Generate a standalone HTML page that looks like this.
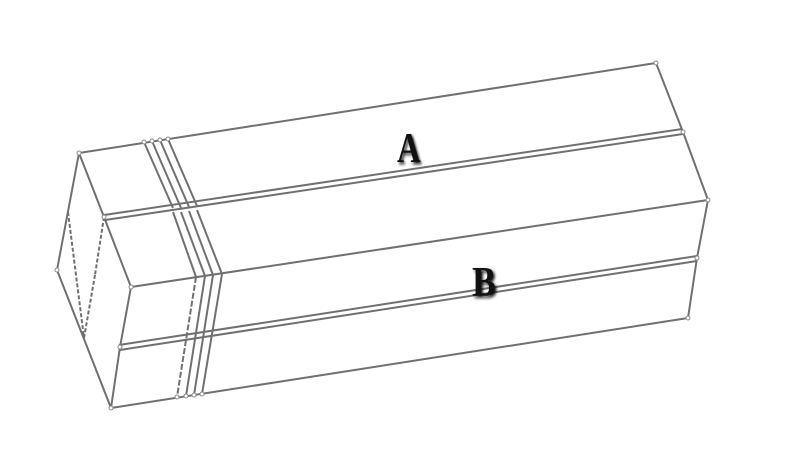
<!DOCTYPE html>
<html><head><meta charset="utf-8"><style>
html,body{margin:0;padding:0;background:#fff;width:800px;height:453px;overflow:hidden}
svg{display:block}
text{font-family:"Liberation Serif",serif;font-weight:bold;fill:#111}
</style></head><body>
<svg width="800" height="453" viewBox="0 0 800 453">
<defs><filter id="sh"><feGaussianBlur stdDeviation="1.5"/></filter></defs>
<g fill="none" stroke="#707070" stroke-width="2" stroke-linejoin="round">
<line x1="79" y1="153" x2="656" y2="63"/>
<line x1="104" y1="215" x2="682" y2="129"/>
<line x1="105" y1="220" x2="683" y2="134"/>
<line x1="131" y1="287" x2="708" y2="200"/>
<polyline points="79,153 104,217 131,287"/>
<polyline points="656,63 683,132 708,200"/>
<line x1="119" y1="345" x2="697" y2="256"/>
<line x1="120" y1="350" x2="697" y2="261"/>
<line x1="111" y1="408" x2="688" y2="318"/>
<polyline points="131,287 120,347 111,408"/>
<polyline points="708,200 697,258 688,318"/>
<polyline points="79,153 57,270 111,408"/>
<line x1="68" y1="212" x2="84" y2="338" stroke-dasharray="4,2"/>
<line x1="104" y1="217" x2="95" y2="275" stroke-dasharray="4,2"/>
<line x1="95" y1="275" x2="84" y2="338" stroke-dasharray="4,2"/>
<line x1="144" y1="142" x2="173" y2="208"/>
<line x1="152" y1="141" x2="181" y2="208"/>
<line x1="160" y1="140" x2="189" y2="207"/>
<line x1="168" y1="139" x2="197" y2="206"/>
<line x1="173" y1="212" x2="196" y2="277"/>
<line x1="181" y1="212" x2="205" y2="276"/>
<line x1="189" y1="211" x2="213" y2="275"/>
<line x1="197" y1="210" x2="222" y2="274"/>
<line x1="196" y1="277" x2="177" y2="397" stroke-dasharray="6,2"/>
<line x1="205" y1="276" x2="186" y2="396"/>
<line x1="213" y1="275" x2="194" y2="395"/>
<line x1="222" y1="274" x2="202" y2="394"/>
</g>
<g fill="#fff" stroke="#888" stroke-width="1">
<circle cx="79" cy="153" r="2"/><circle cx="656" cy="63" r="2"/><circle cx="683" cy="132" r="2"/>
<circle cx="708" cy="200" r="2"/><circle cx="697" cy="258" r="2"/><circle cx="688" cy="318" r="2"/>
<circle cx="131" cy="287" r="2"/><circle cx="120" cy="347" r="2"/><circle cx="111" cy="408" r="2"/>
<circle cx="104" cy="217" r="2"/><circle cx="57" cy="270" r="2"/>
<circle cx="144" cy="142" r="2"/><circle cx="152" cy="141" r="2"/><circle cx="160" cy="140" r="2"/><circle cx="168" cy="139" r="2"/>
<circle cx="177" cy="397" r="2"/><circle cx="186" cy="396" r="2"/><circle cx="194" cy="395" r="2"/><circle cx="202" cy="394" r="2"/>
</g>
<g transform="translate(397,162) scale(0.78,1)"><text x="2" y="2" font-size="42" fill="#888" filter="url(#sh)">A</text><text x="0" y="0" font-size="42">A</text></g>
<g transform="translate(472,296) scale(0.85,1)"><text x="2" y="2" font-size="42" fill="#888" filter="url(#sh)">B</text><text x="0" y="0" font-size="42">B</text></g>
</svg>
</body></html>
